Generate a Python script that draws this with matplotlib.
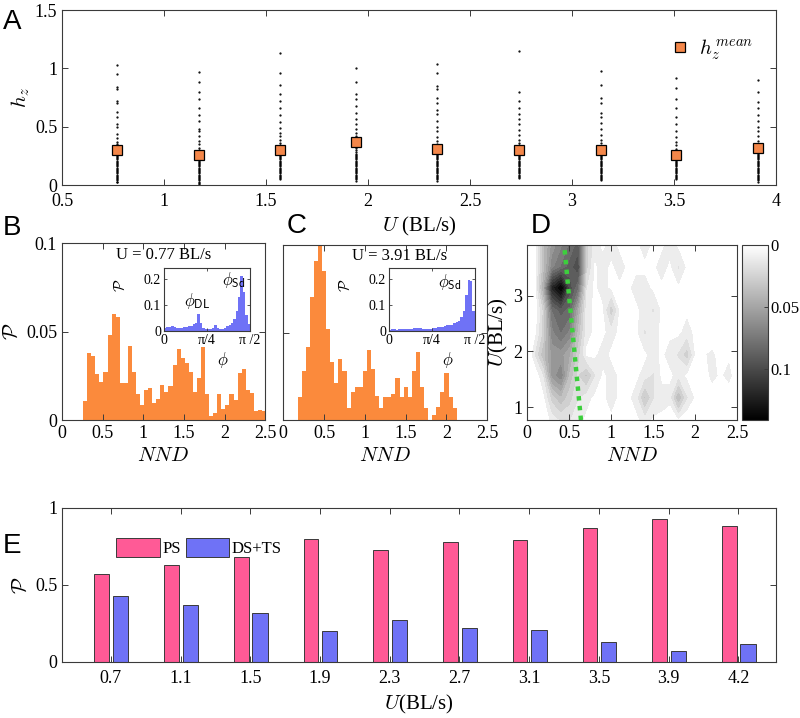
import numpy as np
import matplotlib
matplotlib.use("Agg")
import matplotlib.pyplot as plt
from matplotlib.colors import Normalize
from matplotlib.cm import ScalarMappable

plt.rcParams['font.family'] = ['Liberation Serif', 'DejaVu Serif']
plt.rcParams['mathtext.fontset'] = 'cm'
plt.rcParams['axes.edgecolor'] = '#3a3a3a'
plt.rcParams['axes.linewidth'] = 0.8
plt.rcParams['xtick.color'] = '#3a3a3a'
plt.rcParams['ytick.color'] = '#3a3a3a'
plt.rcParams['xtick.labelcolor'] = 'black'
plt.rcParams['ytick.labelcolor'] = 'black'

ORANGE = '#fb8a3c'
PINK = '#ff5a96'
BLUE = '#6f72f6'

# ---- panel A: heights per speed ----
speeds_a = [0.77, 1.17, 1.57, 1.94, 2.34, 2.74, 3.14, 3.51, 3.91]
hz_mean = [0.30, 0.26, 0.30, 0.37, 0.31, 0.30, 0.30, 0.26, 0.32]
hz_points = [
    [0.025, 0.03, 0.04, 0.05, 0.06, 0.07, 0.08, 0.09, 0.10, 0.11, 0.12, 0.13, 0.14, 0.15, 0.16,
     0.17, 0.18, 0.19, 0.20, 0.21, 0.22, 0.23, 0.24, 0.25, 0.26, 0.27, 0.28, 0.29, 0.31, 0.33,
     0.35, 0.37, 0.40, 0.44, 0.50, 0.52, 0.58, 0.63, 0.70, 0.72, 0.82, 0.84, 0.95, 1.03],
    [0.01, 0.02, 0.03, 0.04, 0.05, 0.06, 0.07, 0.08, 0.09, 0.10, 0.11, 0.12, 0.13, 0.14, 0.15,
     0.16, 0.17, 0.18, 0.19, 0.20, 0.21, 0.22, 0.23, 0.24, 0.26, 0.28, 0.30, 0.32, 0.35, 0.38,
     0.42, 0.46, 0.48, 0.55, 0.60, 0.66, 0.74, 0.80, 0.88, 0.97],
    [0.05, 0.06, 0.07, 0.08, 0.09, 0.10, 0.11, 0.12, 0.13, 0.14, 0.15, 0.16, 0.17, 0.18, 0.19,
     0.20, 0.21, 0.22, 0.23, 0.24, 0.25, 0.26, 0.27, 0.28, 0.30, 0.32, 0.34, 0.36, 0.39, 0.42,
     0.45, 0.49, 0.54, 0.60, 0.66, 0.72, 0.78, 0.86, 0.96, 1.13],
    [0.035, 0.05, 0.06, 0.07, 0.08, 0.09, 0.10, 0.11, 0.12, 0.13, 0.14, 0.15, 0.16, 0.17, 0.18,
     0.19, 0.20, 0.21, 0.22, 0.23, 0.24, 0.25, 0.26, 0.27, 0.28, 0.30, 0.32, 0.34, 0.36, 0.39,
     0.42, 0.45, 0.48, 0.52, 0.57, 0.62, 0.68, 0.74, 0.78, 0.88, 1.00],
    [0.035, 0.05, 0.06, 0.07, 0.08, 0.09, 0.10, 0.11, 0.12, 0.13, 0.14, 0.15, 0.16, 0.17, 0.18,
     0.19, 0.20, 0.21, 0.22, 0.23, 0.24, 0.25, 0.26, 0.27, 0.29, 0.31, 0.33, 0.35, 0.38, 0.41,
     0.46, 0.50, 0.55, 0.61, 0.64, 0.70, 0.75, 0.82, 0.85, 0.96, 1.04],
    [0.06, 0.07, 0.08, 0.09, 0.10, 0.11, 0.12, 0.13, 0.14, 0.15, 0.16, 0.17, 0.18, 0.19, 0.20,
     0.21, 0.22, 0.23, 0.24, 0.25, 0.26, 0.27, 0.28, 0.30, 0.32, 0.34, 0.36, 0.39, 0.43, 0.47,
     0.52, 0.57, 0.61, 0.66, 0.72, 0.80, 1.15],
    [0.04, 0.05, 0.06, 0.07, 0.08, 0.09, 0.10, 0.11, 0.12, 0.13, 0.14, 0.15, 0.16, 0.17, 0.18,
     0.19, 0.20, 0.21, 0.22, 0.23, 0.24, 0.25, 0.26, 0.27, 0.29, 0.31, 0.33, 0.36, 0.39, 0.43,
     0.48, 0.53, 0.58, 0.62, 0.70, 0.75, 0.86, 0.98],
    [0.05, 0.06, 0.07, 0.08, 0.09, 0.10, 0.11, 0.12, 0.13, 0.14, 0.15, 0.16, 0.17, 0.18, 0.19,
     0.20, 0.21, 0.22, 0.23, 0.24, 0.25, 0.27, 0.29, 0.31, 0.34, 0.37, 0.41, 0.46, 0.52, 0.58,
     0.66, 0.74, 0.83, 0.92],
    [0.025, 0.04, 0.05, 0.06, 0.07, 0.08, 0.09, 0.10, 0.11, 0.12, 0.13, 0.14, 0.15, 0.16, 0.17,
     0.18, 0.19, 0.20, 0.21, 0.22, 0.23, 0.24, 0.25, 0.26, 0.27, 0.28, 0.30, 0.32, 0.35, 0.38,
     0.42, 0.46, 0.50, 0.55, 0.60, 0.66, 0.71, 0.80, 0.90],
]

# ---- panel B / C: NND histograms ----
bin_w = 0.05
b_start = 0.26
b_hist = [0.011, 0.038, 0.036, 0.026, 0.0215, 0.027, 0.048, 0.060, 0.058, 0.021, 0.021, 0.042,
          0.027, 0.0145, 0.0087, 0.017, 0.018, 0.0096, 0.012, 0.020, 0.016, 0.019, 0.031, 0.040,
          0.035, 0.032, 0.027, 0.016, 0.024, 0.041, 0.0145, 0.002, 0.004, 0.0145, 0.006, 0.0087,
          0.0145, 0.0115, 0.0265, 0.029, 0.017, 0.0154, 0.005, 0.0054, 0.005]
c_start = 0.176
c_hist = [0.013, 0.028, 0.042, 0.070, 0.091, 0.0995, 0.085, 0.052, 0.033, 0.021, 0.035, 0.028,
          0.0067, 0.016, 0.019, 0.019, 0.028, 0.040, 0.029, 0.014, 0.0067, 0.013, 0.013, 0.015,
          0.024, 0.013, 0.019, 0.013, 0.028, 0.039, 0.019, 0.0067, 0.0, 0.003, 0.0076, 0.016,
          0.027, 0.013, 0.0067]

# insets: angle distributions, 36 bins over [0, pi/2]
phi_b = [0.012, 0.015, 0.014, 0.018, 0.016, 0.013, 0.010, 0.012, 0.014, 0.016, 0.018, 0.020,
         0.028, 0.032, 0.065, 0.030, 0.012, 0.008, 0.006, 0.008, 0.012, 0.022, 0.010, 0.006,
         0.008, 0.012, 0.018, 0.022, 0.030, 0.045, 0.075, 0.130, 0.210, 0.150, 0.060, 0.025]
phi_c = [0.004, 0.006, 0.006, 0.005, 0.006, 0.007, 0.008, 0.007, 0.008, 0.009, 0.010, 0.011,
         0.013, 0.012, 0.008, 0.007, 0.008, 0.009, 0.010, 0.012, 0.014, 0.016, 0.015, 0.018,
         0.022, 0.021, 0.024, 0.030, 0.035, 0.040, 0.055, 0.075, 0.138, 0.195, 0.190, 0.075]

# ---- panel D: NND density vs speed ----
nnd_grid = np.round(np.arange(0, 2.51, 0.1), 2)
d_rows = [
    [0, 0, 0.005, 0.015, 0.02, 0.02, 0.015, 0.01, 0.005, 0.005, 0.01, 0.005, 0.005, 0.01, 0.015, 0.01,
     0.01, 0.005, 0.01, 0.005, 0.005, 0, 0.005, 0.005, 0, 0],
    [0, 0, 0.01, 0.03, 0.04, 0.03, 0.02, 0.015, 0.01, 0.01, 0.015, 0.01, 0.01, 0.015, 0.035, 0.02,
     0.015, 0.015, 0.04, 0.02, 0.01, 0.005, 0.005, 0.01, 0.005, 0],
    [0, 0.005, 0.02, 0.06, 0.07, 0.04, 0.025, 0.035, 0.02, 0.01, 0.015, 0.01, 0.005, 0.01, 0.015, 0.02,
     0.01, 0.01, 0.015, 0.01, 0.01, 0.005, 0.015, 0.01, 0.015, 0.005],
    [0, 0.02, 0.04, 0.06, 0.06, 0.05, 0.03, 0.01, 0.01, 0.015, 0.01, 0.01, 0.005, 0.01, 0.01, 0.015,
     0.01, 0.015, 0.02, 0.03, 0.01, 0.01, 0.015, 0.005, 0.01, 0],
    [0, 0.01, 0.03, 0.07, 0.08, 0.07, 0.04, 0.015, 0.01, 0.01, 0.015, 0.01, 0.01, 0.01, 0.02, 0.015,
     0.01, 0.01, 0.01, 0.015, 0.01, 0, 0, 0, 0.005, 0],
    [0, 0.005, 0.03, 0.08, 0.09, 0.085, 0.05, 0.015, 0.01, 0.01, 0.03, 0.01, 0.01, 0.01, 0.015, 0.02,
     0.01, 0.01, 0.01, 0.01, 0.005, 0, 0, 0, 0, 0],
    [0, 0.01, 0.05, 0.12, 0.14, 0.10, 0.08, 0.02, 0.01, 0.015, 0.01, 0.01, 0.01, 0.015, 0.015, 0.01,
     0.01, 0.01, 0.01, 0.005, 0.005, 0, 0, 0, 0, 0],
    [0, 0.01, 0.04, 0.07, 0.08, 0.09, 0.10, 0.03, 0.01, 0.015, 0.01, 0.015, 0.01, 0.01, 0.01, 0.01,
     0.015, 0.01, 0.02, 0.01, 0.005, 0, 0, 0, 0, 0],
    [0, 0.01, 0.04, 0.06, 0.07, 0.08, 0.09, 0.03, 0.015, 0.01, 0.015, 0.01, 0.01, 0.01, 0.015, 0.01,
     0.01, 0.015, 0.01, 0.01, 0.005, 0, 0, 0, 0, 0],
]
fit_u = [0.77, 3.91]
fit_nnd = [0.64, 0.44]

# ---- panel E: state probabilities ----
e_labels = ['0.7', '1.1', '1.5', '1.9', '2.3', '2.7', '3.1', '3.5', '3.9', '4.2']
ps = [0.57, 0.63, 0.68, 0.80, 0.73, 0.78, 0.79, 0.87, 0.93, 0.88]
ds_ts = [0.43, 0.37, 0.32, 0.20, 0.27, 0.22, 0.21, 0.13, 0.07, 0.12]


def style(ax, size=13):
    ax.tick_params(direction='in', top=True, right=True, labelsize=size, length=4, width=0.7)


fig = plt.figure(figsize=(8, 7.18), dpi=100)

# A
axA = fig.add_axes([0.0775, 0.7423, 0.8925, 0.2437])
for x, pts in zip(speeds_a, hz_points):
    axA.plot([x] * len(pts), pts, 'k.', markersize=1.2)
axA.plot(speeds_a, hz_mean, 's', color='#f4874a', markeredgecolor='black', markeredgewidth=0.9,
         markersize=6.5, linestyle='none', label=r'$h_z^{\,mean}$')
axA.set_xlim(0.5, 4)
axA.set_ylim(0, 1.5)
axA.set_xticks([0.5, 1, 1.5, 2, 2.5, 3, 3.5, 4])
axA.set_xticklabels(['0.5', '1', '1.5', '2', '2.5', '3', '3.5', '4'])
axA.set_yticks([0, 0.5, 1, 1.5])
axA.set_yticklabels(['0', '0.5', '1', '1.5'])
axA.set_ylabel(r'$h_z$', fontsize=15, labelpad=2)
axA.set_xlabel(r'$U$ (BL/s)', fontsize=15, labelpad=3)
axA.legend(loc='upper right', bbox_to_anchor=(0.995, 0.95), frameon=False, fontsize=15,
           handletextpad=0.3, handlelength=1.2)
style(axA)
axA.tick_params(axis='x', pad=6)

# B
axB = fig.add_axes([0.0775, 0.415, 0.254, 0.2465])
b_left = b_start + bin_w * np.arange(len(b_hist))
axB.bar(b_left, b_hist, width=bin_w, align='edge', color=ORANGE, linewidth=0)
axB.set_xlim(0, 2.5)
axB.set_ylim(0, 0.1)
axB.set_xticks([0, 0.5, 1, 1.5, 2, 2.5])
axB.set_xticklabels(['0', '0.5', '1', '1.5', '2', '2.5'])
axB.set_yticks([0, 0.05, 0.1])
axB.set_yticklabels(['0', '0.05', '0.1'])
axB.set_ylabel(r'$\mathcal{P}$', fontsize=15, labelpad=2)
axB.set_xlabel(r'$NND$', fontsize=15)
axB.text(0.5, 0.935, 'U = 0.77 BL/s', transform=axB.transAxes, ha='center', va='center', fontsize=12)
style(axB)

# C
axC = fig.add_axes([0.354, 0.415, 0.255, 0.2438])
c_left = c_start + bin_w * np.arange(len(c_hist))
axC.bar(c_left, c_hist, width=bin_w, align='edge', color=ORANGE, linewidth=0)
axC.set_xlim(0, 2.5)
axC.set_ylim(0, 0.1)
axC.set_xticks([0, 0.5, 1, 1.5, 2, 2.5])
axC.set_xticklabels(['0', '0.5', '1', '1.5', '2', '2.5'])
axC.set_yticks([0, 0.05, 0.1])
axC.set_yticklabels([])
axC.set_xlabel(r'$NND$', fontsize=15)
axC.text(0.57, 0.935, 'U = 3.91 BL/s', transform=axC.transAxes, ha='center', va='center', fontsize=12)
style(axC)

# insets
phi_w = (np.pi / 2) / len(phi_b)
for rect, vals, notes in [
    ([0.205, 0.539, 0.1075, 0.0877], phi_b, [(r'$\phi_{\mathsf{DL}}$', 0.60, 0.115), (r'$\phi_{\mathsf{Sd}}$', 1.28, 0.195)]),
    ([0.486, 0.539, 0.1075, 0.0877], phi_c, [(r'$\phi_{\mathsf{Sd}}$', 1.12, 0.185)]),
]:
    ins = fig.add_axes(rect)
    ins.bar(phi_w * np.arange(len(vals)), vals, width=phi_w, align='edge', color=BLUE, linewidth=0)
    ins.set_xlim(0, np.pi / 2)
    ins.set_ylim(0, 0.24)
    ins.set_xticks([0, np.pi / 4, np.pi / 2])
    ins.set_xticklabels(['0', '\u03c0/4', '\u03c0 /2'])
    ins.set_yticks([0, 0.1, 0.2])
    ins.set_yticklabels(['0', '0.1', '0.2'])
    ins.tick_params(direction='in', top=True, right=True, labelsize=10, length=2.5, width=0.6, pad=2)
    ins.set_ylabel(r'$\mathcal{P}$', fontsize=11)
    ins.yaxis.set_label_coords(-0.42, 0.72)
    ins.set_xlabel(r'$\phi$', fontsize=12)
    ins.xaxis.set_label_coords(0.68, -0.3)
    for txt, x, y in notes:
        ins.text(x, y, txt, ha='center', va='center', fontsize=12)

# D
axD = fig.add_axes([0.659, 0.415, 0.2625, 0.2438])
d_levels = np.concatenate([[0.0], np.linspace(0.012, 0.141, 18)])
d_norm = Normalize(vmin=d_levels[1] / 2, vmax=0.141)
cf = axD.contourf(nnd_grid, speeds_a, np.array(d_rows), levels=d_levels, cmap='gray_r', norm=d_norm)
axD.plot(fit_nnd, fit_u, color='#3ccf3c', linestyle=(0, (1, 1.2)), linewidth=3.2)
axD.set_xlim(0, 2.5)
axD.set_ylim(0.77, 3.91)
axD.set_xticks([0, 0.5, 1, 1.5, 2, 2.5])
axD.set_xticklabels(['0', '0.5', '1', '1.5', '2', '2.5'])
axD.set_yticks([1, 2, 3])
axD.set_yticklabels(['1', '2', '3'])
axD.set_ylabel(r'$U$(BL/s)', fontsize=15, labelpad=2)
axD.set_xlabel(r'$NND$', fontsize=15)
style(axD)

cax = fig.add_axes([0.9275, 0.415, 0.0325, 0.2438])
cb = fig.colorbar(ScalarMappable(norm=Normalize(0, 0.141), cmap='gray_r'), cax=cax)
cb.set_ticks([0, 0.05, 0.1])
cb.set_ticklabels(['0', '0.05', '0.1'])
cax.invert_yaxis()
cax.tick_params(direction='in', labelsize=12, length=3, width=0.7, pad=2)
cb.outline.set_linewidth(0.8)

# E
axE = fig.add_axes([0.0775, 0.078, 0.8925, 0.2145])
xe = np.arange(1, len(e_labels) + 1)
axE.bar(xe - 0.13, ps, width=0.21, color=PINK, edgecolor='#3a3a3a', linewidth=0.7, label='PS')
axE.bar(xe + 0.14, ds_ts, width=0.22, color=BLUE, edgecolor='#3a3a3a', linewidth=0.7, label='DS+TS')
axE.set_xlim(0.3, 10.54)
axE.set_ylim(0, 1)
axE.set_xticks(xe)
axE.set_xticklabels(e_labels)
axE.set_yticks([0, 0.5, 1])
axE.set_yticklabels(['0', '0.5', '1'])
axE.set_ylabel(r'$\mathcal{P}$', fontsize=15, labelpad=2)
axE.set_xlabel(r'$U$(BL/s)', fontsize=15)
axE.legend(loc='upper left', bbox_to_anchor=(0.055, 0.9), ncol=2, frameon=False, fontsize=12,
           handlelength=2.6, handleheight=1.3, columnspacing=0.3, handletextpad=0.15)
style(axE)
axE.tick_params(axis='x', pad=6)

for label, x, y in [('A', 0.004, 0.988), ('B', 0.004, 0.700), ('C', 0.358, 0.703),
                    ('D', 0.664, 0.703), ('E', 0.004, 0.258)]:
    fig.text(x, y, label, fontsize=20, family='Liberation Sans', ha='left', va='top')

fig.savefig('out.png', dpi=100)
